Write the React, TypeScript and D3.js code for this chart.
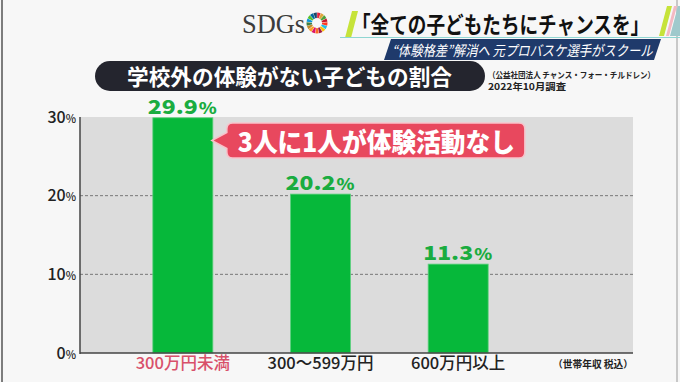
import React from "react";
import * as d3 from "d3";

const categories = ["300万円未満", "300～599万円", "600万円以上"];
const values = [29.9, 20.2, 11.3];
const yTicks = [0, 10, 20, 30];
const gridTicks = [10, 20];
const highlightIndex = 0;
const sdgColors = [
  "#E5243B", "#DDA63A", "#4C9F38", "#C5192D", "#FF3A21", "#26BDE2", "#FCC30B", "#A21942",
  "#FD6925", "#DD1367", "#FD9D24", "#BF8B2E", "#3F7E44", "#0A97D9", "#56C02B", "#00689D", "#19486A",
];

const FONT = "'Noto Sans CJK JP', 'Noto Sans', sans-serif";

export default function App() {
  const W = 680, H = 382;
  const plotL = 80, plotR = 633, plotT = 117, plotB = 353;
  const y = d3.scaleLinear().domain([0, 30]).range([plotB, plotT]);
  const x = d3.scaleBand<string>().domain(categories).range([114, 527]).paddingInner(0.564).paddingOuter(0.282);
  const bw = x.bandwidth();

  const pie = d3.pie<string>().value(() => 1).sort(null)(sdgColors);
  const arc = d3.arc<d3.PieArcDatum<string>>().innerRadius(5).outerRadius(10.5).padAngle(0.03);

  // callout geometry anchored to first bar
  const tipX = (x(categories[highlightIndex]) as number) + bw - 1;
  const cL = tipX + 15, cR = cL + 298, cT = 123, cB = 158, r = 6;
  const midY = (cT + cB) / 2;
  const calloutPath = `M${cL + r},${cT} H${cR - r} Q${cR},${cT} ${cR},${cT + r} V${cB - r} Q${cR},${cB} ${cR - r},${cB} H${cL + r} Q${cL},${cB} ${cL},${cB - r} V${midY + 8} L${tipX},${midY} L${cL},${midY - 8} V${cT + r} Q${cL},${cT} ${cL + r},${cT} Z`;

  return (
    <svg width={W} height={H} style={{ position: "absolute", left: 0, top: 0, display: "block" }} fontFamily={FONT}>
      <rect x={0} y={0} width={W} height={H} fill="#f7f7f7" />
      <line x1={2} x2={2} y1={0} y2={H} stroke="#555" strokeWidth={1.5} />
      <line x1={677} x2={677} y1={0} y2={H} stroke="#999" strokeWidth={1} />

      {/* header */}
      <text x={242} y={33} fontFamily="'Liberation Serif', serif" fontSize={27} fill="#3c3c3c" textLength={63} lengthAdjust="spacingAndGlyphs">SDGs</text>
      <g transform="translate(317,23)">
        {pie.map((p, i) => (
          <path key={i} d={arc(p) as string} fill={p.data} />
        ))}
      </g>
      <polygon points="345,38 352,11 358,11 351,38" fill="#c6e33a" />
      <line x1={340} x2={680} y1={37.5} y2={37.5} stroke="#8fd6d2" strokeWidth={1.2} />
      <text transform="translate(352,33) scale(0.81,1)" fontSize={23} fontWeight={700} fill="#111">「全ての子どもたちにチャンスを」</text>
      <polygon points="659,36 667,6 672,6 664,36" fill="#c6e33a" />
      <polygon points="666,36 674,6 677,6 669,36" fill="#f3b9c3" />
      <polygon points="670,36 678,6 680,6 680,36" fill="#9fc9cc" />
      <polygon points="391,39 661,39 654,60 384,60" fill="#1f3a6b" />
      <text transform="translate(392,55.5) scale(0.85,1)" fontSize={14.5} fontStyle="italic" fill="#fff">“体験格差”解消へ 元プロバスケ選手がスクール</text>

      {/* title pill */}
      <rect x={95} y={61} width={390} height={30} rx={15} fill="#24252e" />
      <text x={127} y={85} fontSize={22} fontWeight={700} fill="#fff" textLength={325} lengthAdjust="spacingAndGlyphs">学校外の体験がない子どもの割合</text>
      <text x={488} y={77.5} fontSize={8.5} fontWeight={700} fill="#222" textLength={167} lengthAdjust="spacingAndGlyphs">（公益社団法人 チャンス・フォー・チルドレン）</text>
      <text x={488} y={90} fontSize={9.5} fontWeight={700} fill="#222" textLength={78} lengthAdjust="spacingAndGlyphs">2022年10月調査</text>

      {/* plot */}
      <rect x={plotL} y={plotT} width={plotR - plotL} height={plotB - plotT} fill="#dcdcdc" />
      {gridTicks.map((t) => (
        <line key={t} x1={plotL} x2={plotR} y1={y(t)} y2={y(t)} stroke="#777" strokeWidth={1} strokeDasharray="3,2" />
      ))}
      {categories.map((c, i) => (
        <rect key={c} x={x(c)} y={y(values[i])} width={bw} height={plotB - y(values[i])} fill="#06b83a" stroke="#5fd07f" strokeWidth={0.8} />
      ))}
      <line x1={plotL} x2={plotL} y1={plotT} y2={plotB + 1} stroke="#444" strokeWidth={1.5} />
      <line x1={plotL} x2={plotR} y1={plotB} y2={plotB} stroke="#444" strokeWidth={1.5} />

      {yTicks.map((t) => (
        <text key={t} x={76} y={y(t) + 5.5} textAnchor="end" fill="#222" fontWeight={500}>
          <tspan fontSize={16}>{t}</tspan>
          <tspan fontSize={11}>%</tspan>
        </text>
      ))}

      {categories.map((c, i) => {
        const cx = (x(c) as number) + bw / 2;
        const by = y(values[i]) - 4;
        const s = values[i].toFixed(1);
        return (
          <g key={c}>
            <text x={cx - 35} y={by} fontSize={19.5} fontWeight={900} fill="#1aac40" textLength={50} lengthAdjust="spacingAndGlyphs">{s}</text>
            <text x={cx + 16} y={by} fontSize={15} fontWeight={900} fill="#1aac40" textLength={18} lengthAdjust="spacingAndGlyphs">%</text>
          </g>
        );
      })}

      {categories.map((c, i) => (
        <text key={c} x={(x(c) as number) + bw / 2} y={369} textAnchor="middle" fontSize={16.5} fontWeight={500}
          fill={i === highlightIndex ? "#d8506a" : "#222"}>{c}</text>
      ))}
      <text x={633} y={368} textAnchor="end" fontSize={10} fontWeight={700} fill="#222" textLength={80} lengthAdjust="spacingAndGlyphs">（世帯年収 税込）</text>

      {/* callout */}
      <path d={calloutPath} fill="#e8485e" stroke="#f7c3cb" strokeWidth={1.5} />
      <text x={cL + 11} y={152} fontSize={26} fontWeight={900} fill="#fff" textLength={277} lengthAdjust="spacingAndGlyphs">3人に1人が体験活動なし</text>
    </svg>
  );
}
